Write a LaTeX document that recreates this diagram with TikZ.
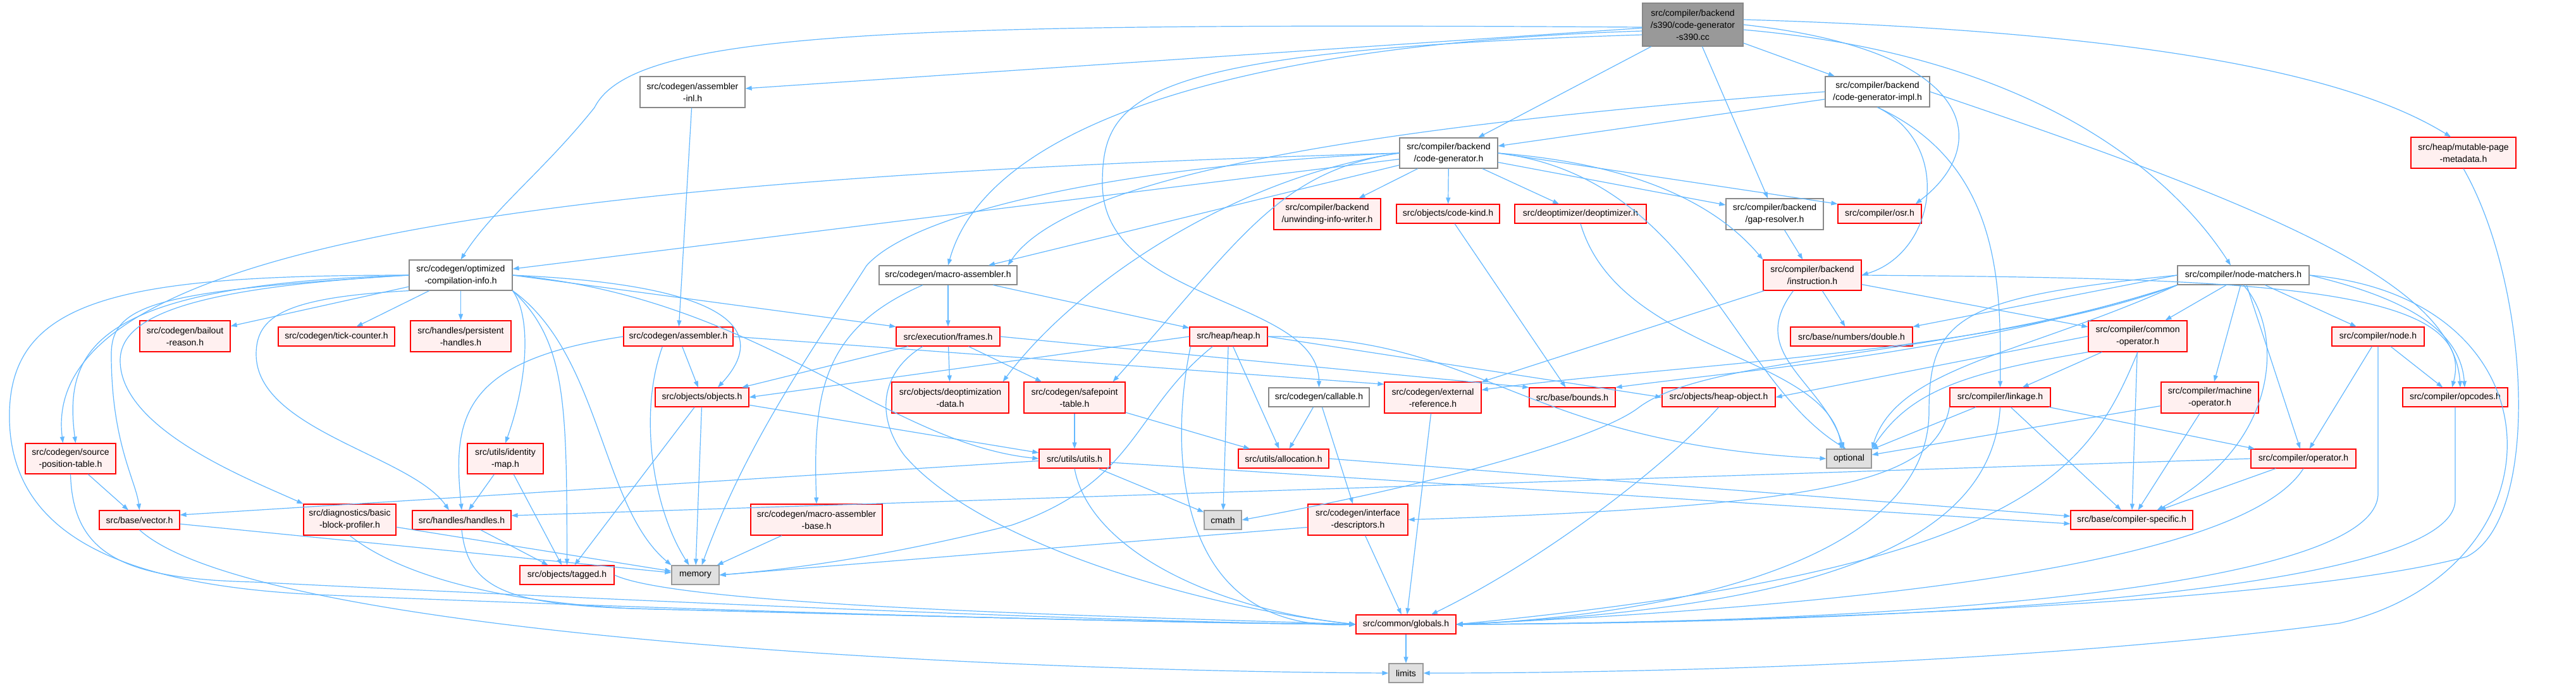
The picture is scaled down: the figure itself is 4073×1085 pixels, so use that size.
\documentclass[tikz,border=0pt]{standalone}
\usepackage{fontspec}
\setmainfont{Liberation Sans}
\usetikzlibrary{arrows.meta}
\definecolor{edgeblue}{HTML}{63B8FF}
\definecolor{redfill}{HTML}{FFF0F0}
\definecolor{grayfill}{HTML}{E0E0E0}
\definecolor{rootfill}{HTML}{999999}
\definecolor{wborder}{HTML}{888888}
\definecolor{gborder}{HTML}{999999}
\newcommand{\mknode}[7]{\node[#1, minimum width=#5pt, minimum height=#6pt] (#2) at (#3,#4) {#7};}
\begin{document}
\begin{tikzpicture}[x=1pt,y=-1pt,
  nb/.style={draw, line width=1.2pt, inner sep=0pt, align=center, font=\fontsize{14}{19}\selectfont, text=black},
  wn/.style={nb, draw=wborder, fill=white},
  rn/.style={nb, draw=red, fill=redfill},
  gn/.style={nb, draw=gborder, fill=grayfill},
  rootn/.style={nb, draw=wborder, fill=rootfill},
  e/.style={draw=edgeblue, line width=1.2pt, -{Triangle[length=10pt,width=7pt]}}]
\useasboundingbox (0,0) rectangle (4073,1085);
\fill[white] (0,0) rectangle (4073,1085);

% ---------- nodes ----------
\mknode{rootn}{root}{2676.5}{39}{159}{68}{src/compiler/backend\\/s390/code-generator\\-s390.cc}
\mknode{wn}{asminl}{1095}{145.5}{166}{49}{src/codegen/assembler\\-inl.h}
\mknode{wn}{cgimpl}{2968.5}{145}{165}{48}{src/compiler/backend\\/code-generator-impl.h}
\mknode{rn}{mpm}{3895}{241.5}{166}{49}{src/heap/mutable-page\\-metadata.h}
\mknode{wn}{cg}{2290.5}{242}{155}{48}{src/compiler/backend\\/code-generator.h}
\mknode{wn}{oci}{728.5}{435}{163}{48}{src/codegen/optimized\\-compilation-info.h}
\mknode{wn}{masm}{1499}{435}{218}{30}{src/codegen/macro-assembler.h}
\mknode{wn}{gapres}{2806}{338.5}{154}{49}{src/compiler/backend\\/gap-resolver.h}
\mknode{rn}{instr}{2865.5}{435}{155}{48}{src/compiler/backend\\/instruction.h}
\mknode{wn}{nm}{3547}{435}{208}{30}{src/compiler/node-matchers.h}
\mknode{rn}{uiw}{2098.5}{338.5}{169}{49}{src/compiler/backend\\/unwinding-info-writer.h}
\mknode{rn}{codekind}{2289.5}{338}{163}{30}{src/objects/code-kind.h}
\mknode{rn}{deopt}{2499}{338}{208}{30}{src/deoptimizer/deoptimizer.h}
\mknode{rn}{osr}{2972}{338}{132}{30}{src/compiler/osr.h}
\mknode{rn}{bailout}{292.5}{531.5}{143}{49}{src/codegen/bailout\\-reason.h}
\mknode{rn}{tick}{532}{532}{184}{30}{src/codegen/tick-counter.h}
\mknode{rn}{persist}{728.5}{531.5}{159}{49}{src/handles/persistent\\-handles.h}
\mknode{rn}{asm}{1072.5}{532}{173}{30}{src/codegen/assembler.h}
\mknode{rn}{frames}{1499}{532}{164}{30}{src/execution/frames.h}
\mknode{rn}{heap}{1942.5}{532}{123}{30}{src/heap/heap.h}
\mknode{rn}{double}{2927.5}{532}{193}{30}{src/base/numbers/double.h}
\mknode{rn}{commonop}{3380}{531.5}{156}{49}{src/compiler/common\\-operator.h}
\mknode{rn}{node}{3760}{532}{146}{30}{src/compiler/node.h}
\mknode{rn}{objects}{1110}{628}{148}{30}{src/objects/objects.h}
\mknode{rn}{deoptdata}{1502.5}{628.5}{185}{49}{src/objects/deoptimization\\-data.h}
\mknode{rn}{safepoint}{1699}{628.5}{160}{49}{src/codegen/safepoint\\-table.h}
\mknode{wn}{callable}{2085.5}{628}{159}{30}{src/codegen/callable.h}
\mknode{rn}{extref}{2265.5}{628.5}{153}{49}{src/codegen/external\\-reference.h}
\mknode{rn}{bounds}{2486}{628}{136}{30}{src/base/bounds.h}
\mknode{rn}{heapobj}{2717.5}{628}{179}{30}{src/objects/heap-object.h}
\mknode{rn}{linkage}{3162.5}{628}{159}{30}{src/compiler/linkage.h}
\mknode{rn}{machop}{3494}{628.5}{154}{49}{src/compiler/machine\\-operator.h}
\mknode{rn}{opcodes}{3882}{628}{166}{30}{src/compiler/opcodes.h}
\mknode{rn}{srcpos}{111.5}{725}{143}{48}{src/codegen/source\\-position-table.h}
\mknode{rn}{idmap}{799}{725}{120}{48}{src/utils/identity\\-map.h}
\mknode{rn}{utils}{1699}{725}{112}{30}{src/utils/utils.h}
\mknode{rn}{alloc}{2029.5}{725}{143}{30}{src/utils/allocation.h}
\mknode{gn}{optional}{2923.5}{725}{71}{30}{optional}
\mknode{rn}{operator}{3642}{725}{166}{30}{src/compiler/operator.h}
\mknode{rn}{vector}{220.5}{822}{127}{30}{src/base/vector.h}
\mknode{rn}{bbprof}{553}{821.5}{146}{49}{src/diagnostics/basic\\-block-profiler.h}
\mknode{rn}{handles}{730}{822}{156}{30}{src/handles/handles.h}
\mknode{rn}{masmbase}{1291}{821.5}{208}{49}{src/codegen/macro-assembler\\-base.h}
\mknode{gn}{cmath}{1933.5}{822}{59}{30}{cmath}
\mknode{rn}{ifdesc}{2147}{821.5}{158}{49}{src/codegen/interface\\-descriptors.h}
\mknode{rn}{compspec}{3370.5}{822}{193}{30}{src/base/compiler-specific.h}
\mknode{rn}{tagged}{896.5}{909}{149}{30}{src/objects/tagged.h}
\mknode{gn}{memory}{1099.5}{909}{75}{30}{memory}
\mknode{rn}{globals}{2223}{987}{158}{30}{src/common/globals.h}
\mknode{gn}{limits}{2223}{1064}{54}{30}{limits}

% ---------- edges ----------
% root
\draw[e] (root) -- (asminl);
\draw[e] ([yshift=-4pt]root.west) .. controls (1400,35) and (1000,50) .. (940,170) .. controls (860,270) and (780,330) .. (oci.north);
\draw[e] ([yshift=-10pt]root.west) .. controls (1950,70) and (1560,200) .. (masm.north);
\draw[e] ([yshift=-16pt]root.west) .. controls (1800,80) and (1743,150) .. (1743,290) .. controls (1743,480) and (2085,470) .. (callable.north);
\draw[e] (root) -- (cg);
\draw[e] (root) -- (gapres);
\draw[e] (root) -- (cgimpl);
\draw[e] (root.east) .. controls (3130,80) and (3150,230) .. ([xshift=-10pt]osr.north east);
\draw[e] ([yshift=-8pt]root.east) .. controls (3250,90) and (3450,300) .. ([xshift=-20pt]nm.north);
\draw[e] ([yshift=8pt]root.east) .. controls (3400,50) and (3720,120) .. ([xshift=-20pt]mpm.north);
% assembler-inl
\draw[e] (asminl) -- (asm);
% code-generator-impl
\draw[e] (cgimpl) -- (cg);
\draw[e] (cgimpl.west) .. controls (2300,190) and (1700,260) .. ([xshift=-15pt]masm.north east);
\draw[e] (cgimpl.south) .. controls (3090,230) and (3060,400) .. (instr.east);
\draw[e] (cgimpl.south) .. controls (3164,260) and (3164,450) .. (linkage.north);
\draw[e] (cgimpl.east) .. controls (3600,330) and (3880,450) .. ([xshift=8pt]opcodes.north);
% code-generator
\draw[e] (cg) -- (oci);
\draw[e] (cg) -- (masm);
\draw[e] (cg.west) .. controls (900,280) and (60,380) .. ([xshift=-12pt]srcpos.north);
\draw[e] (cg.west) .. controls (1800,260) and (1450,330) .. (1370,420) .. controls (1280,560) and (1180,700) .. ([xshift=10pt]memory.north);
\draw[e] (cg.west) .. controls (2020,270) and (1960,380) .. ([xshift=-20pt]safepoint.north east);
\draw[e] (cg.west) .. controls (1950,280) and (1700,450) .. ([xshift=-10pt]deoptdata.north east);
\draw[e] (cg) -- (uiw);
\draw[e] (cg) -- (codekind);
\draw[e] (cg) -- (deopt);
\draw[e] (cg) -- (gapres);
\draw[e] (cg.east) -- (osr.north west);
\draw[e] (cg.east) .. controls (2600,260) and (2720,330) .. (instr.north west);
\draw[e] (cg.east) .. controls (2680,280) and (2740,600) .. ([xshift=-5pt]optional.north);
% optimized-compilation-info
\draw[e] (oci) -- (bailout);
\draw[e] (oci) -- (tick);
\draw[e] (oci) -- (persist);
\draw[e] (oci.south east) .. controls (840,500) and (835,600) .. (idmap.north);
\draw[e] (oci.west) .. controls (150,450) and (100,550) .. ([xshift=8pt]srcpos.north);
\draw[e] (oci.west) .. controls (250,460) and (176,480) .. (176,560) .. controls (176,700) and (215,760) .. (vector.north);
\draw[e] (oci.west) .. controls (300,455) and (190,500) .. (190,570) .. controls (190,680) and (400,760) .. (bbprof.north west);
\draw[e] (oci.south west) .. controls (450,470) and (405,500) .. (405,560) .. controls (405,680) and (650,720) .. ([xshift=-20pt]handles.north);
\draw[e] (oci.west) .. controls (200,435) and (20,470) .. (15,650) .. controls (10,850) and (200,925) .. (500,940) .. controls (1100,965) and (1800,985) .. (globals.west);
\draw[e] (oci.east) -- (frames.north west);
\draw[e] (oci.east) .. controls (1150,450) and (1220,520) .. ([xshift=25pt]objects.north);
\draw[e] (oci.east) .. controls (1200,470) and (1400,700) .. (utils.west);
\draw[e] (oci.south east) .. controls (896,540) and (896,640) .. (tagged.north);
\draw[e] (oci.south east) .. controls (950,560) and (950,800) .. (memory.north west);
% macro-assembler
\draw[e] (masm) -- (frames);
\draw[e] (masm) -- (heap);
\draw[e] ([xshift=-40pt]masm.south) .. controls (1300,520) and (1285,620) .. (masmbase.north);
% gap-resolver
\draw[e] (gapres) -- (instr);
% instruction
\draw[e] (instr) -- (extref);
\draw[e] (instr) -- (double);
\draw[e] (instr) -- (commonop);
\draw[e] (instr.east) .. controls (3550,440) and (3920,450) .. ([xshift=-5pt]opcodes.north);
\draw[e] ([xshift=-30pt]instr.south) .. controls (2760,560) and (2880,600) .. ([xshift=-8pt]optional.north);
% node-matchers
\draw[e] (nm.west) -- (double.north east);
\draw[e] (nm) -- (commonop);
\draw[e] (nm) -- (machop);
\draw[e] (nm) -- (node);
\draw[e] (nm) -- (operator);
\draw[e] (nm.south west) .. controls (3150,560) and (2600,580) .. ([yshift=12pt]extref.east);
\draw[e] (nm.south west) .. controls (3100,560) and (2800,580) .. (bounds.north east);
\draw[e] (nm.south) .. controls (3610,520) and (3610,700) .. ([xshift=40pt]compspec.north);
\draw[e] (nm.east) .. controls (3800,470) and (3890,520) .. ([xshift=15pt]opcodes.north);
\draw[e] (nm.south west) .. controls (3100,565) and (2700,560) .. (2590,645) .. controls (2530,690) and (2300,760) .. (cmath.east);
\draw[e] (nm.south west) .. controls (3200,560) and (3000,580) .. (optional.north east);
\draw[e] (nm.west) .. controls (3100,470) and (3050,500) .. (3050,650) .. controls (3050,900) and (2600,975) .. (globals.east);
\draw[e] (nm.east) .. controls (4060,470) and (4060,900) .. (3700,985) .. controls (3200,1050) and (2600,1064) .. (limits.east);
% mutable-page-metadata
\draw[e] (mpm.south) .. controls (4000,450) and (4020,820) .. (3900,880) .. controls (3600,960) and (2700,985) .. (globals.east);
% code-kind, deoptimizer
\draw[e] (codekind) -- (bounds);
\draw[e] (deopt.south) .. controls (2560,560) and (2890,560) .. ([xshift=-12pt]optional.north);
% assembler
\draw[e] (asm) -- (objects);
\draw[e] (asm.east) -- ([yshift=-4pt]extref.north west);
\draw[e] (asm.west) .. controls (730,570) and (715,660) .. (handles.north);
\draw[e] ([xshift=-25pt]asm.south) .. controls (1010,650) and (1030,800) .. ([xshift=-10pt]memory.north);
% frames
\draw[e] (frames) -- (objects);
\draw[e] (frames) -- (deoptdata);
\draw[e] (frames) -- (safepoint);
\draw[e] (frames.east) -- (bounds.north west);
\draw[e] ([xshift=-40pt]frames.south) .. controls (1390,590) and (1385,660) .. (1430,720) .. controls (1550,860) and (1900,960) .. (globals.west);
% heap
\draw[e] (heap.west) -- (objects.east);
\draw[e] (heap) -- (cmath);
\draw[e] (heap) -- (alloc);
\draw[e] (heap.east) -- (heapobj.west);
\draw[e] (heap.east) .. controls (2350,530) and (2400,700) .. (optional.west);
\draw[e] ([xshift=-25pt]heap.south) .. controls (1790,650) and (1800,760) .. (1600,830) .. controls (1400,880) and (1250,900) .. (memory.east);
\draw[e] ([xshift=-60pt]heap.south) .. controls (1850,700) and (1850,1000) .. (globals.west);
% common-operator
\draw[e] (commonop) -- (linkage);
\draw[e] (commonop.west) -- (heapobj.east);
\draw[e] (commonop) -- (compspec);
\draw[e] (commonop.south west) .. controls (3100,590) and (3020,620) .. (optional.north east);
\draw[e] (commonop.south) .. controls (3300,750) and (3200,900) .. (globals.east);
% node
\draw[e] (node) -- (operator);
\draw[e] (node) -- (opcodes);
\draw[e] (node.south) -- (3760,780) .. controls (3760,930) and (3000,985) .. (globals.east);
% objects
\draw[e] (objects) -- (memory);
\draw[e] (objects) -- (tagged);
\draw[e] (objects) -- (utils);
% safepoint
\draw[e] (safepoint) -- (utils);
\draw[e] (safepoint) -- (alloc);
% callable
\draw[e] (callable) -- (ifdesc);
\draw[e] (callable) -- (alloc);
% external-reference, heap-object
\draw[e] (extref) -- (globals);
\draw[e] (heapobj.south) .. controls (2640,730) and (2450,880) .. ([xshift=40pt]globals.north);
% linkage
\draw[e] (linkage.south west) .. controls (3060,760) and (2900,800) .. (ifdesc.east);
\draw[e] (linkage) -- (operator);
\draw[e] (linkage) -- (compspec);
\draw[e] (linkage) -- (optional);
\draw[e] (linkage.south) .. controls (3150,850) and (2900,960) .. (globals.east);
% machine-operator
\draw[e] (machop) -- (compspec);
\draw[e] (machop) -- (optional);
% opcodes
\draw[e] (opcodes.south) -- (3882,790) .. controls (3882,940) and (3000,985) .. (globals.east);
% source-position-table
\draw[e] (srcpos) -- (vector);
\draw[e] (srcpos.south) .. controls (115,880) and (200,915) .. (400,920) .. controls (1000,950) and (1800,985) .. (globals.west);
% identity-map
\draw[e] (idmap) -- (handles);
\draw[e] (idmap) -- (tagged);
% utils
\draw[e] (utils) -- ([yshift=8pt]vector.east);
\draw[e] (utils) -- (cmath);
\draw[e] ([yshift=-6pt]utils.east) -- ([yshift=-6pt]compspec.west);
\draw[e] (utils.south) .. controls (1720,860) and (1900,960) .. (globals.west);
% allocation
\draw[e] (alloc.east) -- ([yshift=6pt]compspec.west);
% operator
\draw[e] (operator.west) -- ([yshift=7pt]handles.east);
\draw[e] (operator) -- (compspec);
\draw[e] (operator.south) .. controls (3560,870) and (3100,950) .. (globals.east);
% vector
\draw[e] (vector) -- (memory);
\draw[e] (vector.south) .. controls (400,1000) and (1500,1060) .. (limits.west);
% basic-block-profiler
\draw[e] (bbprof) -- (memory);
\draw[e] (bbprof.south) .. controls (620,900) and (760,950) .. (1000,962) .. controls (1500,975) and (1900,985) .. (globals.west);
% handles
\draw[e] (handles) -- (tagged);
\draw[e] (handles.south) .. controls (740,930) and (800,955) .. (1000,962) .. controls (1500,975) and (1900,985) .. (globals.west);
% macro-assembler-base, interface-descriptors
\draw[e] (masmbase) -- (memory);
\draw[e] ([yshift=-12pt]ifdesc.west) -- (memory.east);
\draw[e] (ifdesc) -- (globals);
% tagged
\draw[e] (tagged.east) .. controls (1080,960) and (1800,975) .. (globals.west);
% globals
\draw[e] (globals) -- (limits);
\end{tikzpicture}
\end{document}
